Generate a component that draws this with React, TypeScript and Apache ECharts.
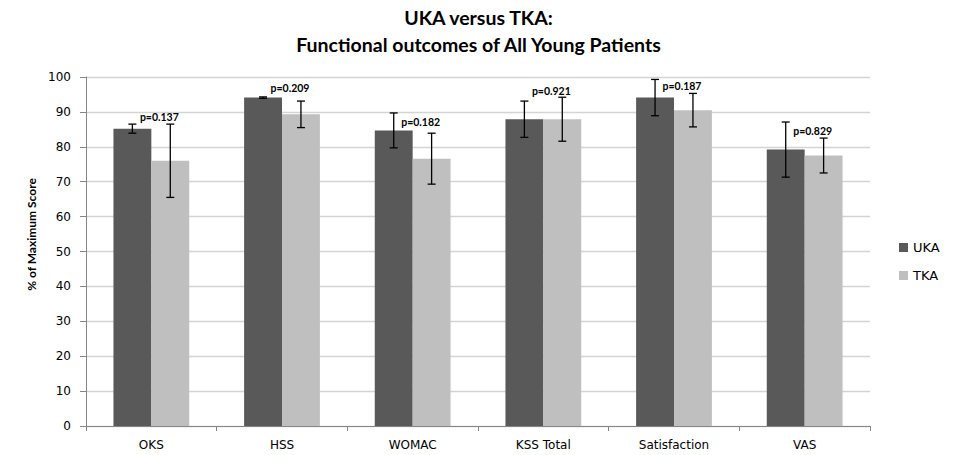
import React, { useEffect, useRef } from "react";
import * as echarts from "echarts";

const categories = ["OKS", "HSS", "WOMAC", "KSS Total", "Satisfaction", "VAS"];
const ukaValues = [85.2, 94.1, 84.7, 87.9, 94.1, 79.2];
const ukaErrors = [1.3, 0.2, 5.0, 5.2, 5.2, 7.9];
const tkaValues = [76.0, 89.3, 76.6, 87.9, 90.5, 77.5];
const tkaErrors = [10.5, 3.8, 7.3, 6.3, 4.8, 5.0];
const pValues = ["p=0.137", "p=0.209", "p=0.182", "p=0.921", "p=0.187", "p=0.829"];
const pLabelY = [88.5, 96.8, 87.1, 96.0, 97.3, 84.5];
const yTicks = [0, 10, 20, 30, 40, 50, 60, 70, 80, 90, 100];

const FONT = "Lato, 'Noto Sans', sans-serif";
const AXFONT = "'DejaVu Sans', sans-serif";
const GROUP_FRACTION = 0.58;

function errorSeries(name: string, values: number[], errors: number[], side: number) {
  return {
    type: "custom",
    name: name + " err",
    silent: true,
    z: 10,
    data: values.map((v, i) => [i, v, errors[i]]),
    renderItem: (params: any, api: any) => {
      const idx = api.value(0);
      const v = api.value(1);
      const e = api.value(2);
      const band = api.size([1, 0])[0];
      const off = (band * GROUP_FRACTION) / 4 * side;
      const top = api.coord([idx, v + e]);
      const bot = api.coord([idx, v - e]);
      const x = top[0] + off;
      const cap = 4;
      const style = { stroke: "#000", lineWidth: 1.3 };
      return {
        type: "group",
        children: [
          { type: "line", shape: { x1: x, y1: top[1], x2: x, y2: bot[1] }, style },
          { type: "line", shape: { x1: x - cap, y1: top[1], x2: x + cap, y2: top[1] }, style },
          { type: "line", shape: { x1: x - cap, y1: bot[1], x2: x + cap, y2: bot[1] }, style },
        ],
      };
    },
  };
}

export default function App() {
  const ref = useRef<HTMLDivElement>(null);
  useEffect(() => {
    if (!ref.current) return;
    const chart = echarts.init(ref.current, undefined, { renderer: "svg" });
    chart.setOption({
      animation: false,
      backgroundColor: "#fff",
      title: {
        text: "UKA versus TKA:\nFunctional outcomes of All Young Patients",
        left: "center",
        top: -1,
        textStyle: {
          fontFamily: FONT,
          fontSize: 19.5,
          fontWeight: "bold",
          lineHeight: 27,
          color: "#000",
        },
      },
      graphic: [
        {
          type: "text",
          x: 31,
          y: 234.5,
          rotation: Math.PI / 2,
          style: {
            text: "% of Maximum Score",
            fontFamily: FONT,
            fontSize: 12,
            fontWeight: "bold",
            fill: "#000000",
            align: "center",
            verticalAlign: "middle",
          },
        },
      ],
      legend: {
        data: ["UKA", "TKA"],
        orient: "vertical",
        left: 894,
        top: 235,
        icon: "rect",
        itemWidth: 9,
        itemHeight: 9,
        itemGap: 13,
        textStyle: { fontFamily: AXFONT, fontSize: 13, lineHeight: 15, color: "#000" },
      },
      grid: { left: 86, right: 87, top: 77, bottom: 29, containLabel: false },
      xAxis: {
        type: "category",
        data: categories,
        axisLine: { lineStyle: { color: "#868686" } },
        axisTick: { show: true, length: 5, lineStyle: { color: "#868686" } },
        axisLabel: { fontFamily: AXFONT, fontSize: 12, color: "#000", margin: 13 },
      },
      yAxis: {
        type: "value",
        min: 0,
        max: 100,
        interval: 10,
        axisLine: { show: true, lineStyle: { color: "#868686" } },
        axisTick: { show: true, length: 6, lineStyle: { color: "#868686" } },
        axisLabel: {
          fontFamily: AXFONT,
          fontSize: 12,
          color: "#000",
          margin: 15,
          formatter: (v: number) => (yTicks.includes(v) ? String(v) : ""),
        },
        splitLine: { show: true, lineStyle: { color: "#d4d4d4", width: 1.3 } },
      },
      series: [
        {
          type: "bar",
          name: "UKA",
          data: ukaValues,
          itemStyle: { color: "#595959" },
          barGap: "0%",
          barCategoryGap: "42%",
        },
        {
          type: "bar",
          name: "TKA",
          data: tkaValues,
          itemStyle: { color: "#bfbfbf" },
        },
        errorSeries("UKA", ukaValues, ukaErrors, -1),
        errorSeries("TKA", tkaValues, tkaErrors, 1),
        {
          type: "custom",
          name: "p",
          silent: true,
          z: 11,
          data: pLabelY.map((y, i) => [i, y]),
          renderItem: (params: any, api: any) => {
            const p = api.coord([api.value(0), api.value(1)]);
            return {
              type: "text",
              x: p[0] + 8,
              y: p[1],
              style: {
                text: pValues[params.dataIndex],
                fontFamily: FONT,
                fontSize: 10.5,
                fontWeight: "bold",
                fill: "#000",
                align: "center",
                verticalAlign: "middle",
              },
            };
          },
        },
      ],
    });
    return () => chart.dispose();
  }, []);
  return <div ref={ref} style={{ width: 957, height: 455, position: "absolute", left: 0, top: 0 }} />;
}
